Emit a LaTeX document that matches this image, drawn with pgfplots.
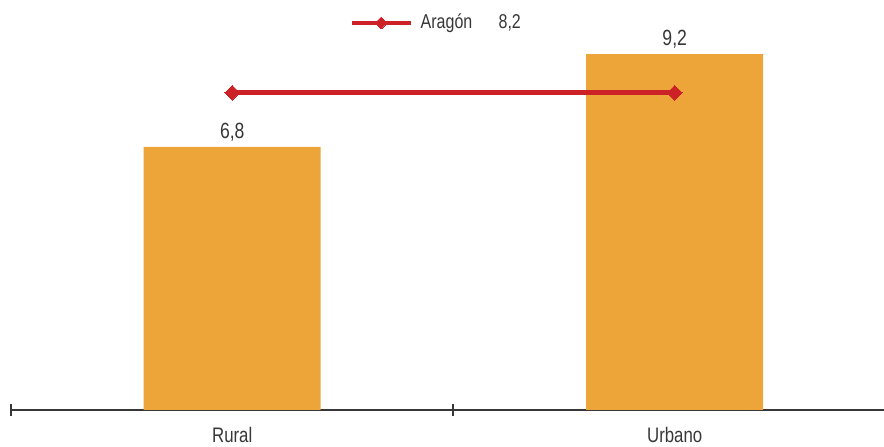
\documentclass[border=0pt]{standalone}
\usepackage{pgfplots}
\pgfplotsset{compat=1.18}
\usepackage{fontspec}
\setmainfont{Liberation Sans}[FakeStretch=0.8]
\definecolor{barc}{RGB}{237,164,56}
\definecolor{redc}{RGB}{205,33,40}
\definecolor{txt}{RGB}{55,55,55}
\begin{document}
\begin{tikzpicture}
\begin{axis}[
  scale only axis, width=873pt, height=410pt,
  at={(0pt,0pt)}, anchor=south west,
  xmin=-0.5, xmax=1.473, ymin=0, ymax=10.6,
  hide y axis,
  axis x line*=bottom,
  x axis line style={-, draw=txt, line width=2pt},
  xtick={-0.5,0.5}, xticklabels={},
  major tick length=11pt, tick align=center,
  tick style={draw=txt, line width=2pt},
  extra x ticks={0,1}, extra x tick labels={Rural,Urbano},
  extra x tick style={major tick length=0pt},
  xticklabel style={font=\fontsize{21}{24}\selectfont, text=txt, yshift=-14pt},
  /pgf/number format/assume math mode=true,
  clip=false,
]
\addplot[ybar, bar width=177pt, fill=barc, draw=none,
  nodes near coords, point meta=explicit symbolic,
  every node near coord/.style={font=\fontsize{22}{24}\selectfont, text=txt, yshift=2pt}]
  coordinates {(0,6.8)[6,8] (1,9.2)[9,2]};
\addplot[redc, line width=5pt, mark=square*, mark size=5.2pt,
  mark options={rotate=45, line width=0pt, fill=redc}]
  coordinates {(0,8.2) (1,8.2)};
% legend sample
\addplot[redc, line width=4.5pt, mark=square*, mark size=4.2pt, mark indices={2},
  mark options={rotate=45, line width=0pt, fill=redc}]
  coordinates {(0.27,10.005) (0.3365,10.005) (0.403,10.005)};
\node[anchor=west, inner sep=0pt, font=\fontsize{20}{24}\selectfont, text=txt]
  at (axis cs:0.4255,10.005) {Aragón};
\node[anchor=west, inner sep=0pt, font=\fontsize{20}{24}\selectfont, text=txt]
  at (axis cs:0.6016,10.005) {8,2};
\end{axis}
\pgfresetboundingbox
\path (-11pt,-37pt) rectangle (873pt,410pt);
\end{tikzpicture}
\end{document}
